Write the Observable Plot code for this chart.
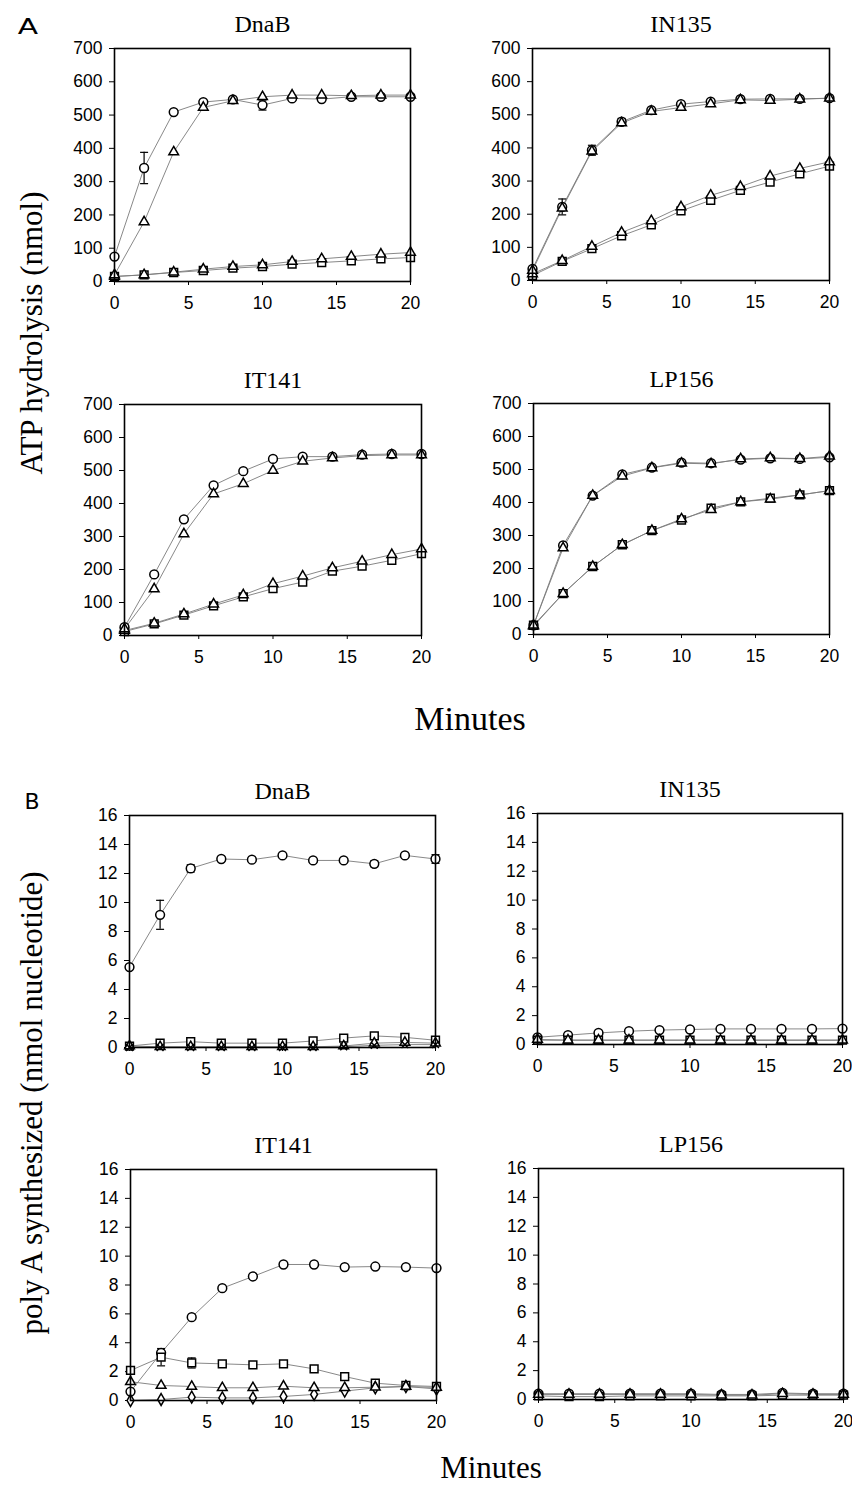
<!DOCTYPE html>
<html><head><meta charset="utf-8">
<script src="https://cdn.jsdelivr.net/npm/d3@7"></script>
<script src="https://cdn.jsdelivr.net/npm/@observablehq/plot@0.6"></script>
<style>
body{margin:0;background:#fff;}
#root{position:relative;width:852px;height:1486px;overflow:hidden;background:#fff;}
.panel{position:absolute;}
.panel g[aria-label$="tick label"], .panel g[aria-label$="tick label"] text{font-size:17.5px !important;font-family:'Liberation Sans',Arial,sans-serif !important;}
#labels{position:absolute;left:0;top:0;}
</style></head><body><div id="root"></div>
<script>
// ---------- data ----------
const minutes = [0, 2, 4, 6, 8, 10, 12, 14, 16, 18, 20];
const xTicks = [0, 5, 10, 15, 20];
const yTicksA = [0, 100, 200, 300, 400, 500, 600, 700];
const yTicksB = [0, 2, 4, 6, 8, 10, 12, 14, 16];
const panelNames = ["DnaB", "IN135", "IT141", "LP156"];

// Panel A: ATP hydrolysis (nmol)
const aDnaB_circle   = [75, 341, 509, 539, 547, 530, 550, 548, 555, 555, 555];
const aDnaB_triangle = [20, 179, 389, 523, 543, 555, 560, 560, 558, 560, 560];
const aDnaB_tri2     = [15, 20, 28, 37, 45, 50, 60, 68, 75, 82, 87];
const aDnaB_square   = [15, 20, 27, 33, 40, 45, 52, 57, 62, 68, 72];
const aDnaB_circleErr = [0, 47, 5, 5, 0, 15, 0, 0, 0, 0, 0];

const aIN135_circle   = [35, 222, 393, 479, 514, 532, 540, 547, 548, 548, 550];
const aIN135_triangle = [30, 218, 390, 475, 510, 522, 533, 545, 543, 547, 550];
const aIN135_tri2     = [20, 60, 103, 145, 180, 222, 257, 283, 315, 338, 358];
const aIN135_square   = [15, 58, 96, 135, 168, 210, 242, 272, 297, 322, 345];
const aIN135_circleErr = [0, 24, 15, 10, 0, 0, 0, 0, 0, 0, 0];

const aIT141_circle   = [25, 185, 352, 455, 498, 535, 542, 542, 548, 550, 550];
const aIT141_triangle = [20, 141, 308, 429, 460, 500, 528, 538, 545, 547, 547];
const aIT141_tri2     = [15, 37, 65, 95, 123, 157, 180, 205, 225, 245, 262];
const aIT141_square   = [12, 35, 62, 90, 117, 142, 162, 195, 210, 228, 248];

const aLP156_circle   = [28, 270, 421, 485, 506, 521, 519, 530, 534, 532, 537];
const aLP156_triangle = [28, 262, 421, 480, 505, 519, 517, 532, 535, 533, 540];
const aLP156_tri2     = [25, 124, 206, 272, 315, 350, 378, 402, 410, 423, 436];
const aLP156_square   = [28, 124, 206, 272, 315, 347, 383, 402, 413, 423, 436];

// Panel B: poly A synthesized (nmol nucleotide)
const bDnaB_circle   = [5.55, 9.15, 12.35, 13.0, 12.95, 13.25, 12.9, 12.9, 12.67, 13.25, 13.0];
const bDnaB_square   = [0.1, 0.3, 0.4, 0.3, 0.3, 0.3, 0.45, 0.65, 0.8, 0.7, 0.5];
const bDnaB_triangle = [0.1, 0.05, 0.05, 0.05, 0.05, 0.05, 0.05, 0.1, 0.3, 0.35, 0.3];
const bDnaB_times    = [0, 0, 0, 0, 0, 0, 0, 0.05, 0.15, 0.2, 0.2];
const bDnaB_circleErr = [0.15, 1.0, 0.25, 0.15, 0, 0, 0, 0, 0.2, 0, 0.3];

const bIN135_circle   = [0.5, 0.65, 0.8, 0.92, 1.0, 1.04, 1.08, 1.08, 1.08, 1.08, 1.1];
const bIN135_square   = [0.3, 0.3, 0.3, 0.3, 0.3, 0.3, 0.3, 0.3, 0.3, 0.3, 0.3];
const bIN135_triangle = [0.35, 0.3, 0.3, 0.3, 0.3, 0.3, 0.3, 0.3, 0.3, 0.3, 0.3];

const bIT141_circle   = [0.62, 3.3, 5.77, 7.78, 8.59, 9.42, 9.42, 9.24, 9.28, 9.24, 9.17];
const bIT141_square   = [2.08, 3.0, 2.6, 2.54, 2.47, 2.54, 2.19, 1.66, 1.2, 1.04, 0.97];
const bIT141_triangle = [1.3, 1.04, 0.97, 0.88, 0.88, 0.99, 0.88, 0.88, 0.92, 0.97, 0.9];
const bIT141_diamond  = [0.0, 0.07, 0.23, 0.18, 0.18, 0.28, 0.42, 0.65, 0.88, 0.97, 0.8];
const bIT141_squareErr = [0, 0.6, 0.35, 0, 0, 0, 0, 0, 0, 0, 0];

const bLP156_circle   = [0.4, 0.4, 0.4, 0.4, 0.4, 0.4, 0.35, 0.35, 0.45, 0.4, 0.4];
const bLP156_triangle = [0.35, 0.35, 0.35, 0.35, 0.35, 0.35, 0.3, 0.3, 0.4, 0.35, 0.35];
const bLP156_square   = [0.25, 0.2, 0.2, 0.25, 0.25, 0.25, 0.25, 0.25, 0.3, 0.3, 0.3];

// ---------- panel definitions ----------
const panels = [
  {title: panelNames[0], frame: [114, 410, 48, 281], y: [0, 700], ticks: yTicksA,
   series: [["tri2", "triangle", aDnaB_tri2], ["sq", "square", aDnaB_square], ["tri", "triangle", aDnaB_triangle], ["circ", "circle", aDnaB_circle]],
   err: [["circ", aDnaB_circle, aDnaB_circleErr]]},
  {title: panelNames[1], frame: [532, 829, 48, 280], y: [0, 700], ticks: yTicksA,
   series: [["tri2", "triangle", aIN135_tri2], ["sq", "square", aIN135_square], ["circ", "circle", aIN135_circle], ["tri", "triangle", aIN135_triangle]],
   err: [["circ", aIN135_circle, aIN135_circleErr]]},
  {title: panelNames[2], frame: [124, 421, 404, 635], y: [0, 700], ticks: yTicksA,
   series: [["tri2", "triangle", aIT141_tri2], ["sq", "square", aIT141_square], ["circ", "circle", aIT141_circle], ["tri", "triangle", aIT141_triangle]],
   err: []},
  {title: panelNames[3], frame: [533, 829, 403, 634], y: [0, 700], ticks: yTicksA,
   series: [["tri2", "triangle", aLP156_tri2], ["sq", "square", aLP156_square], ["circ", "circle", aLP156_circle], ["tri", "triangle", aLP156_triangle]],
   err: []},
  {title: panelNames[0], frame: [129, 435, 815, 1047], y: [0, 16], ticks: yTicksB,
   series: [["x", "times", bDnaB_times], ["tri", "triangle", bDnaB_triangle], ["sq", "square", bDnaB_square], ["circ", "circle", bDnaB_circle]],
   err: [["circ", bDnaB_circle, bDnaB_circleErr]]},
  {title: panelNames[1], frame: [537, 842, 813, 1044], y: [0, 16], ticks: yTicksB,
   series: [["tri", "triangle", bIN135_triangle], ["circ", "circle", bIN135_circle], ["sq", "square", bIN135_square]],
   err: []},
  {title: panelNames[2], frame: [130, 436, 1169, 1400], y: [0, 16], ticks: yTicksB,
   series: [["dia", "diamond", bIT141_diamond], ["tri", "triangle", bIT141_triangle], ["circ", "circle", bIT141_circle], ["sq", "square", bIT141_square]],
   err: [["sq", bIT141_square, bIT141_squareErr]]},
  {title: panelNames[3], frame: [538, 843, 1168, 1399], y: [0, 16], ticks: yTicksB,
   series: [["circ", "circle", bLP156_circle], ["tri", "triangle", bLP156_triangle], ["sq", "square", bLP156_square]],
   err: []}
];

// marker sizes per symbol (visual matching)
const symR = {circle: 4.4, square: 4.4, triangle: 3.6, diamond: 3.6, times: 3.2};
// horizontal cap symbol for error bars
const capSymbol = {draw(ctx, size) { const r = Math.sqrt(size / Math.PI); ctx.moveTo(-r, 0); ctx.lineTo(r, 0); }};

const root = document.getElementById("root");
const mL = 64, mR = 16, mT = 46, mB = 44;
const sansTick = "'Liberation Sans', Arial, sans-serif";
const serif = "'Liberation Serif', 'Times New Roman', serif";

for (const p of panels) {
  const [x0, x1, y0, y1] = p.frame;
  const pts = p.series.flatMap(([key, sym, vals]) => minutes.map((t, i) => ({t, v: vals[i], key, sym, r: symR[sym]})));
  const errs = p.err.flatMap(([key, vals, e]) => minutes.map((t, i) => ({t, lo: vals[i] - e[i], hi: vals[i] + e[i], e: e[i]})).filter(d => d.e > 0));
  const chart = Plot.plot({
    width: (x1 - x0) + mL + mR,
    height: (y1 - y0) + mT + mB,
    marginLeft: mL, marginRight: mR, marginTop: mT, marginBottom: mB,
    style: {fontFamily: sansTick, fontSize: "17px", background: "transparent", overflow: "visible", color: "#000"},
    x: {domain: [0, 20], axis: null},
    y: {domain: p.y, axis: null},
    r: {type: "identity"},
    marks: [
      Plot.axisX({ticks: xTicks, tickSize: 4, tickPadding: 11, fontSize: 17.5, label: null, fontFamily: sansTick}),
      Plot.axisY({ticks: p.ticks, tickSize: 5, tickPadding: 7, fontSize: 17.5, label: null, fontFamily: sansTick}),
      Plot.line(pts, {x: "t", y: "v", z: "key", stroke: "#7a7a7a", strokeWidth: 0.9}),
      Plot.ruleX(errs, {x: "t", y1: "lo", y2: "hi", stroke: "#000", strokeWidth: 1.2}),
      Plot.dot(errs, {x: "t", y: "lo", symbol: capSymbol, r: 4, stroke: "#000", fill: "none", strokeWidth: 1.2}),
      Plot.dot(errs, {x: "t", y: "hi", symbol: capSymbol, r: 4, stroke: "#000", fill: "none", strokeWidth: 1.2}),
      Plot.dot(pts, {x: "t", y: "v", symbol: "sym", r: "r", fill: "white", stroke: "#000", strokeWidth: 1.5}),
      Plot.frame({stroke: "#000", strokeWidth: 1.6}),
      Plot.text([p.title], {frameAnchor: "top", dy: -17, lineAnchor: "bottom", fontFamily: serif, fontSize: 24, fontWeight: "normal", fill: "#000"})
    ]
  });
  chart.classList.add("panel");
  chart.style.left = (x0 - mL) + "px";
  chart.style.top = (y0 - mT) + "px";
  chart.style.position = "absolute";
  root.appendChild(chart);
}

// ---------- labels ----------
const ns = "http://www.w3.org/2000/svg";
const svg = document.createElementNS(ns, "svg");
svg.setAttribute("id", "labels");
svg.setAttribute("width", 852);
svg.setAttribute("height", 1486);
svg.style.position = "absolute"; svg.style.left = "0"; svg.style.top = "0"; svg.style.pointerEvents = "none";
function label(txt, x, y, size, family, anchor, rotate, sx) {
  const t = document.createElementNS(ns, "text");
  t.textContent = txt;
  t.setAttribute("x", x); t.setAttribute("y", y);
  t.setAttribute("font-size", size);
  t.setAttribute("font-family", family);
  t.setAttribute("text-anchor", anchor);
  if (rotate) t.setAttribute("transform", `rotate(${rotate},${x},${y})`);
  if (sx) t.setAttribute("transform", `translate(${x},${y}) scale(${sx},1) translate(${-x},${-y})`);
  svg.appendChild(t);
}
const sans = "'DejaVu Sans', 'Liberation Sans', sans-serif";
label("A", 28, 34, 22, sans, "middle", 0, 1.35);
label("B", 32, 809, 22, sans, "middle");
label("ATP hydrolysis (nmol)", 42, 333, 31, serif, "middle", -90);
label("poly A synthesized (nmol nucleotide)", 42, 1103, 31, serif, "middle", -90);
label("Minutes", 470, 730, 34, serif, "middle");
label("Minutes", 491, 1478, 31, serif, "middle");
root.appendChild(svg);
</script></body></html>
